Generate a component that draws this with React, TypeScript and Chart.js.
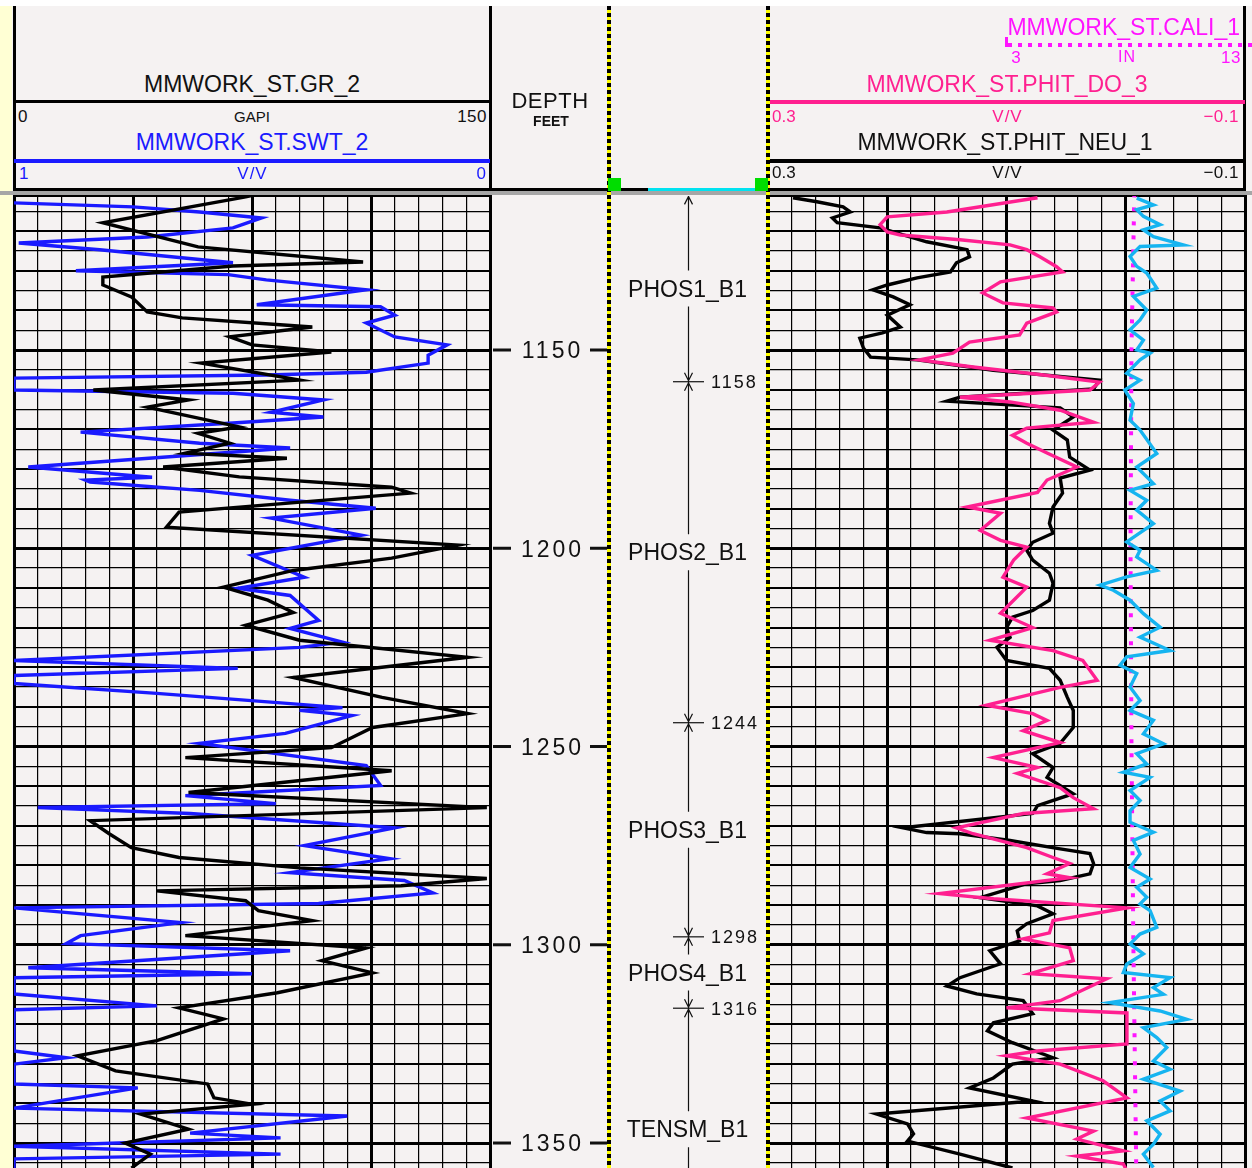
import React, { useEffect, useRef } from 'react';
import { Chart, registerables } from 'chart.js';

Chart.register(...registerables);

const FONT = '"Liberation Sans", Arial, Helvetica, sans-serif';

// ---------- depth window ----------
const DEPTH_TOP = 1111.16;
const DEPTH_BASE = 1356.3;

// ---------- depth & zone track ----------
const DEPTH_LABELS = [1150, 1200, 1250, 1300, 1350];
const ZONE_NAMES = ['PHOS1_B1', 'PHOS2_B1', 'PHOS3_B1', 'PHOS4_B1', 'TENSM_B1'];
const ZONE_TOPS = [1111, 1158, 1244, 1298, 1316];
const ZONE_BASES = [1158, 1244, 1298, 1316, 1377];
const TOP_MARKERS = [1158, 1244, 1298, 1316];

// ---------- curve scales ----------
const GR_RANGE = [0, 150];
const SWT_RANGE = [0, 1];
const PHIT_RANGE = [-0.1, 0.3];
const CALI_RANGE = [3, 13];

// ---------- curves: [depth ft, value] ----------
const GR_LOG = [
  [1110.5, 78], [1111.4, 73], [1117.9, 28], [1124.0, 58], [1127.8, 110], [1128.8, 69], [1131.6, 28], [1133.6, 28], [1136.6, 37], [1140.4, 42], [1141.9, 53],
  [1143.7, 85], [1144.2, 94], [1146.7, 68], [1148.7, 75], [1150.5, 100], [1153.3, 59], [1157.6, 90], [1160.1, 25], [1162.6, 55], [1164.4, 42],
  [1169.4, 71], [1171.0, 58], [1173.5, 68], [1176.0, 54], [1177.3, 86], [1179.5, 47], [1182.0, 71], [1184.6, 119], [1186.1, 125], [1190.9, 52],
  [1194.7, 48], [1199.2, 140], [1202.5, 119], [1205.6, 88], [1209.8, 66], [1213.1, 80], [1216.2, 88], [1219.4, 73], [1223.2, 90], [1227.5, 143],
  [1232.6, 88], [1237.6, 116], [1241.7, 143], [1245.2, 113], [1250.3, 100], [1252.8, 54], [1256.1, 119], [1261.6, 55], [1265.4, 149], [1268.7, 24],
  [1272.0, 30], [1275.5, 37], [1278.0, 52], [1280.6, 90], [1283.3, 149], [1285.1, 122], [1286.4, 45], [1288.9, 73], [1291.4, 77], [1293.9, 94],
  [1297.7, 54], [1300.8, 111], [1304.0, 97], [1307.1, 113], [1312.1, 83], [1315.9, 52], [1318.7, 66], [1324.2, 45], [1328.0, 20], [1331.8, 32],
  [1335.1, 61], [1338.6, 63], [1340.2, 75], [1342.7, 40], [1346.5, 55], [1350.0, 35], [1352.8, 43], [1356.3, 37],
];

const SWT_LOG = [
  [1112.9, 1.0], [1113.9, 0.75], [1115.2, 0.61], [1116.7, 0.48], [1119.2, 0.54], [1121.5, 0.72], [1123.0, 0.99], [1124.7, 0.82], [1128.0, 0.54], [1130.0, 0.87],
  [1131.0, 0.55], [1132.3, 0.47], [1134.8, 0.26], [1138.6, 0.49], [1139.1, 0.23], [1141.2, 0.2], [1143.2, 0.26], [1146.7, 0.2], [1148.7, 0.09], [1151.3, 0.13],
  [1153.3, 0.13], [1155.6, 0.26], [1156.3, 0.47], [1157.1, 1.0], [1160.1, 1.0], [1160.9, 0.54], [1162.6, 0.35], [1165.7, 0.46], [1166.9, 0.35], [1168.4, 0.54],
  [1170.7, 0.86], [1173.5, 0.61], [1174.7, 0.42], [1179.5, 0.97], [1182.1, 0.71], [1182.8, 0.85], [1183.3, 0.84], [1185.4, 0.61], [1187.9, 0.42], [1189.9, 0.24],
  [1192.4, 0.46], [1196.7, 0.27], [1201.8, 0.5], [1207.3, 0.39], [1210.1, 0.53], [1211.9, 0.42], [1218.2, 0.36], [1220.2, 0.42], [1223.7, 0.31], [1225.0, 0.4],
  [1228.3, 1.0], [1230.3, 0.53], [1232.1, 1.0], [1234.1, 1.0], [1236.6, 0.7], [1240.2, 0.31], [1240.9, 0.4], [1242.2, 0.29], [1246.7, 0.43], [1249.2, 0.61],
  [1254.8, 0.26], [1259.8, 0.23], [1262.4, 0.64], [1264.4, 0.45], [1265.4, 0.95], [1266.9, 0.63], [1270.5, 0.2], [1275.0, 0.39], [1278.3, 0.21], [1281.8, 0.42],
  [1283.8, 0.18], [1286.9, 0.12], [1289.6, 0.36], [1290.7, 1.0], [1294.4, 0.65], [1297.7, 0.86], [1299.7, 0.89], [1301.5, 0.42], [1305.8, 0.97], [1307.3, 0.5],
  [1308.3, 1.0], [1312.4, 1.0], [1315.4, 0.7], [1316.4, 1.0], [1326.8, 1.0], [1328.5, 0.89], [1330.1, 1.0], [1335.1, 1.0], [1336.1, 0.74], [1341.2, 1.0],
  [1343.2, 0.3], [1347.5, 0.63], [1348.7, 0.44], [1350.8, 1.0], [1352.8, 0.44], [1354.0, 1.0], [1356.6, 1.0],
];

const PHIT_NEU_LOG = [
  [1111.6, 0.279], [1112.6, 0.259], [1113.9, 0.237], [1115.2, 0.231], [1116.7, 0.246], [1117.9, 0.242], [1119.2, 0.206], [1122.7, 0.167], [1124.7, 0.133], [1126.5, 0.131],
  [1128.0, 0.142], [1130.3, 0.147], [1131.8, 0.175], [1133.6, 0.2], [1134.8, 0.212], [1136.6, 0.195], [1138.6, 0.181], [1141.2, 0.2], [1144.2, 0.189], [1145.7, 0.204],
  [1147.0, 0.223], [1149.5, 0.22], [1151.8, 0.214], [1152.5, 0.175], [1155.1, 0.111], [1157.6, 0.022], [1159.8, 0.027], [1161.9, 0.139], [1162.9, 0.15], [1164.6, 0.055],
  [1166.9, 0.044], [1170.2, 0.061], [1172.7, 0.049], [1177.0, 0.047], [1180.3, 0.03], [1182.3, 0.055], [1186.1, 0.053], [1189.6, 0.061], [1193.7, 0.064], [1196.2, 0.061],
  [1198.5, 0.078], [1200.5, 0.083], [1203.0, 0.078], [1206.3, 0.064], [1208.8, 0.061], [1213.1, 0.064], [1215.7, 0.078], [1217.4, 0.095], [1220.0, 0.1], [1222.5, 0.097],
  [1225.0, 0.108], [1228.3, 0.1], [1230.3, 0.064], [1233.3, 0.055], [1237.6, 0.049], [1240.9, 0.044], [1245.2, 0.044], [1249.2, 0.055], [1251.8, 0.078], [1255.3, 0.061],
  [1257.8, 0.066], [1261.9, 0.044], [1264.9, 0.074], [1266.9, 0.078], [1270.5, 0.187], [1271.7, 0.167], [1272.0, 0.139], [1273.7, 0.097], [1275.8, 0.055], [1277.0, 0.03],
  [1279.5, 0.027], [1282.1, 0.03], [1283.8, 0.055], [1284.6, 0.083], [1288.1, 0.122], [1290.2, 0.074], [1292.2, 0.061], [1294.7, 0.083], [1296.5, 0.091], [1299.0, 0.089],
  [1301.5, 0.114], [1304.8, 0.105], [1308.3, 0.139], [1310.4, 0.15], [1312.4, 0.125], [1314.1, 0.086], [1317.4, 0.078], [1319.7, 0.111], [1321.7, 0.116], [1324.7, 0.095],
  [1328.5, 0.061], [1330.1, 0.095], [1333.6, 0.111], [1336.1, 0.131], [1339.4, 0.078], [1342.7, 0.209], [1345.2, 0.183], [1347.7, 0.178], [1349.5, 0.183], [1352.8, 0.139],
  [1356.3, 0.095],
];

const PHIT_DO_LOG = [
  [1111.6, 0.074], [1115.2, 0.15], [1116.4, 0.2], [1118.4, 0.206], [1120.2, 0.2], [1121.0, 0.189], [1122.2, 0.139], [1123.5, 0.097], [1124.7, 0.083], [1126.5, 0.072],
  [1129.0, 0.058], [1130.3, 0.053], [1132.8, 0.105], [1135.6, 0.12], [1138.1, 0.103], [1139.4, 0.061], [1140.4, 0.058], [1143.2, 0.083], [1146.2, 0.089], [1148.0, 0.131],
  [1150.8, 0.145], [1152.5, 0.173], [1154.3, 0.128], [1156.3, 0.069], [1158.1, 0.022], [1160.1, 0.03], [1161.9, 0.139], [1163.1, 0.097], [1165.2, 0.055], [1168.2, 0.027],
  [1169.7, 0.083], [1171.5, 0.095], [1173.5, 0.083], [1176.0, 0.066], [1179.5, 0.041], [1182.8, 0.066], [1185.9, 0.074], [1189.6, 0.133], [1191.2, 0.105], [1195.5, 0.122],
  [1198.0, 0.105], [1199.7, 0.083], [1203.0, 0.094], [1207.3, 0.103], [1209.8, 0.083], [1213.1, 0.094], [1216.4, 0.105], [1220.0, 0.078], [1223.2, 0.114], [1225.8, 0.061],
  [1228.3, 0.036], [1233.3, 0.024], [1235.1, 0.055], [1237.1, 0.083], [1239.6, 0.117], [1241.7, 0.078], [1243.4, 0.066], [1246.0, 0.086], [1249.0, 0.055], [1252.8, 0.111],
  [1255.3, 0.074], [1256.8, 0.091], [1260.4, 0.055], [1262.9, 0.044], [1265.7, 0.027], [1266.9, 0.086], [1270.5, 0.142], [1272.0, 0.128], [1275.5, 0.083], [1278.0, 0.061],
  [1279.5, 0.047], [1282.1, 0.066], [1283.1, 0.047], [1287.1, 0.156], [1288.4, 0.111], [1290.7, -0.001], [1293.9, 0.061], [1297.0, 0.064], [1298.5, 0.086], [1300.8, 0.047],
  [1304.0, 0.044], [1307.3, 0.08], [1308.6, 0.016], [1314.1, 0.055], [1315.9, 0.1], [1317.2, -0.001], [1325.0, -0.001], [1326.8, 0.074], [1328.0, 0.1], [1330.1, 0.055],
  [1334.3, 0.019], [1338.6, -0.001], [1343.7, 0.083], [1347.0, 0.027], [1349.0, 0.041], [1352.0, 0.002], [1353.3, 0.041], [1355.3, 0.002], [1356.5, 0.0],
];

// unlabelled cyan curve, plotted on the CALI scale (inches)
const CYAN_CURVE_LOG = [
  [1111.7, 10.73], [1113.4, 11.08], [1114.6, 10.73], [1116.3, 10.87], [1118.4, 11.22], [1119.7, 10.87], [1121.4, 11.08], [1123.5, 11.71], [1123.9, 10.8], [1126.4, 10.59],
  [1128.9, 10.73], [1130.6, 10.94], [1134.4, 11.15], [1136.5, 10.66], [1139.9, 10.94], [1142.4, 10.8], [1144.9, 10.59], [1147.5, 10.87], [1150.0, 10.73], [1150.8, 11.01],
  [1152.5, 10.8], [1155.9, 10.52], [1157.6, 10.8], [1160.1, 10.48], [1163.5, 10.66], [1167.7, 10.59], [1170.2, 10.8], [1176.1, 11.15], [1179.5, 10.73], [1183.7, 11.08],
  [1185.4, 10.59], [1187.9, 10.94], [1190.4, 10.73], [1193.8, 11.08], [1198.4, 10.52], [1200.5, 10.8], [1202.2, 10.73], [1205.6, 11.15], [1207.2, 10.52], [1209.3, 9.96],
  [1210.6, 10.24], [1213.1, 10.59], [1216.5, 10.87], [1219.9, 11.22], [1222.4, 10.8], [1225.8, 11.43], [1227.4, 10.52], [1229.5, 10.38], [1231.6, 10.73], [1235.0, 10.59],
  [1238.4, 10.8], [1240.9, 10.59], [1243.4, 11.08], [1246.8, 10.87], [1249.3, 11.29], [1251.8, 10.73], [1254.4, 10.94], [1256.5, 10.45], [1257.8, 11.01], [1261.1, 10.59],
  [1263.6, 10.8], [1266.2, 10.59], [1269.1, 10.59], [1271.6, 11.08], [1273.7, 10.66], [1277.1, 10.8], [1280.5, 10.59], [1283.4, 11.01], [1285.5, 10.73], [1288.0, 10.94],
  [1289.7, 10.8], [1291.4, 11.01], [1295.6, 11.15], [1297.3, 10.8], [1299.8, 10.59], [1302.3, 10.87], [1304.9, 10.52], [1307.0, 10.45], [1308.3, 11.43], [1310.8, 11.08],
  [1312.5, 11.29], [1314.6, 10.17], [1316.7, 11.22], [1318.8, 11.78], [1320.9, 10.87], [1323.4, 11.15], [1325.9, 11.36], [1329.3, 11.08], [1331.4, 11.43], [1333.9, 10.87],
  [1336.9, 11.64], [1339.4, 11.22], [1341.9, 11.43], [1344.4, 10.94], [1347.8, 11.22], [1350.3, 11.08], [1352.8, 10.87], [1356.2, 11.08],
];

const CALI_LOG = [
  [1110.5, 10.68], [1150, 10.62], [1200, 10.6], [1250, 10.62], [1300, 10.66], [1356.5, 10.72],
];

// ---------- colours ----------
const C_BLACK = '#000000';
const C_BLUE = '#1a1aff';
const C_PINK = '#ff2090';
const C_MAGENTA = '#ff14ff';
const C_CYAN = '#16b4f0';

// ---------- helpers ----------
const toPoints = (log) => log.map(([d, v]) => ({ x: v, y: d }));

function depthAxis(showGrid) {
  return {
    type: 'linear',
    position: 'left',
    reverse: true,
    min: DEPTH_TOP,
    max: DEPTH_BASE,
    afterFit: (s) => { s.width = 0; },
    afterBuildTicks: (s) => {
      const t = [];
      for (let d = Math.ceil(DEPTH_TOP / 5) * 5; d <= DEPTH_BASE; d += 5) t.push({ value: d });
      s.ticks = t;
    },
    ticks: { display: false },
    border: { display: false },
    grid: {
      display: showGrid,
      drawTicks: false,
      color: '#000',
      lineWidth: (c) => {
        const v = Math.round(c.tick ? c.tick.value : 0);
        return v % 50 === 0 ? 3 : v % 10 === 0 ? 2 : 1.2;
      },
    },
  };
}

function gridAxis(range, reverse) {
  const [min, max] = range;
  return {
    type: 'linear',
    position: 'top',
    min,
    max,
    reverse,
    afterFit: (s) => { s.height = 0; },
    afterBuildTicks: (s) => {
      const t = [];
      for (let i = 0; i <= 20; i++) t.push({ value: min + ((max - min) * i) / 20 });
      s.ticks = t;
    },
    ticks: { display: false },
    border: { display: true, color: '#000', width: 2 },
    grid: {
      drawTicks: false,
      color: '#000',
      lineWidth: (c) => (c.index % 5 === 0 ? 3 : 1.2),
    },
  };
}

function hiddenAxis(range, reverse) {
  return { type: 'linear', position: 'top', min: range[0], max: range[1], reverse, display: false };
}

function curve(log, color, xAxisID, extra = {}) {
  return {
    data: toPoints(log),
    xAxisID,
    yAxisID: 'y',
    showLine: true,
    pointRadius: 0,
    pointHoverRadius: 0,
    borderColor: color,
    backgroundColor: color,
    borderWidth: 3.4,
    fill: false,
    tension: 0,
    ...extra,
  };
}

const baseOptions = (padLeft, padRight) => ({
  animation: false,
  responsive: false,
  maintainAspectRatio: false,
  devicePixelRatio: 1,
  events: [],
  layout: { padding: { left: padLeft, right: padRight, top: 2, bottom: 0 } },
  plugins: { legend: { display: false }, tooltip: { enabled: false }, title: { display: false } },
});

const zonePlugin = {
  id: 'zoneTrack',
  afterDraw(chart) {
    const ctx = chart.ctx;
    const ys = chart.scales.y;
    const area = chart.chartArea;
    const px = (d) => ys.getPixelForValue(d);
    ctx.save();
    ctx.beginPath();
    ctx.rect(0, area.top, chart.width, area.bottom - area.top);
    ctx.clip();
    ctx.fillStyle = '#111';
    ctx.strokeStyle = '#111';
    ctx.textBaseline = 'alphabetic';

    // depth numbers with dashes
    ctx.font = `23px ${FONT}`;
    ctx.textAlign = 'center';
    ctx.letterSpacing = '3px';
    DEPTH_LABELS.forEach((d) => {
      const y = px(d);
      ctx.fillText(String(d), 62.5, y + 8.3);
      ctx.fillRect(3, y - 1.5, 18, 3);
      ctx.fillRect(100, y - 1.5, 18, 3);
    });

    // zones
    const cx = 198.5;
    ctx.lineWidth = 1.2;
    ctx.letterSpacing = '0px';
    ctx.font = `23px ${FONT}`;
    ZONE_NAMES.forEach((name, i) => {
      const yt = px(ZONE_TOPS[i]);
      const yb = px(ZONE_BASES[i]);
      const ym = px((ZONE_TOPS[i] + ZONE_BASES[i]) / 2);
      ctx.beginPath();
      ctx.moveTo(cx, yt);
      ctx.lineTo(cx, ym - 18);
      ctx.moveTo(cx, ym + 18);
      ctx.lineTo(cx, yb);
      ctx.moveTo(cx - 4, yt + 9);
      ctx.lineTo(cx, yt + 1);
      ctx.lineTo(cx + 4, yt + 9);
      ctx.moveTo(cx - 4, yb - 9);
      ctx.lineTo(cx, yb - 1);
      ctx.lineTo(cx + 4, yb - 9);
      ctx.stroke();
      ctx.fillText(name, cx - 1, ym + 8.2);
    });

    // zone boundary depths
    ctx.font = `18px ${FONT}`;
    ctx.textAlign = 'left';
    ctx.letterSpacing = '2px';
    TOP_MARKERS.forEach((d) => {
      const y = px(d);
      ctx.beginPath();
      ctx.moveTo(183, y);
      ctx.lineTo(214, y);
      ctx.stroke();
      ctx.fillText(String(d), 221, y + 6.6);
    });
    ctx.restore();
  },
};

function leftTrackConfig() {
  return {
    type: 'scatter',
    data: {
      datasets: [
        curve(GR_LOG, C_BLACK, 'x'),
        curve(SWT_LOG, C_BLUE, 'swt'),
      ],
    },
    options: {
      ...baseOptions(4, 6),
      scales: {
        x: gridAxis(GR_RANGE, false),
        swt: hiddenAxis(SWT_RANGE, true),
        y: depthAxis(true),
      },
    },
  };
}

function rightTrackConfig() {
  return {
    type: 'scatter',
    data: {
      datasets: [
        curve(PHIT_DO_LOG, C_PINK, 'x'),
        curve(PHIT_NEU_LOG, C_BLACK, 'x'),
        curve(CYAN_CURVE_LOG, C_CYAN, 'cali'),
        curve(CALI_LOG, C_MAGENTA, 'cali', { borderDash: [4, 10], borderWidth: 4, borderCapStyle: 'butt' }),
      ],
    },
    options: {
      ...baseOptions(4, 5),
      scales: {
        x: gridAxis(PHIT_RANGE, true),
        cali: hiddenAxis(CALI_RANGE, false),
        y: depthAxis(true),
      },
    },
  };
}

function depthTrackConfig() {
  return {
    type: 'scatter',
    data: { datasets: [] },
    options: {
      ...baseOptions(0, 0),
      scales: {
        x: { type: 'linear', min: 0, max: 1, display: false },
        y: depthAxis(false),
      },
    },
    plugins: [zonePlugin],
  };
}

function ChartCanvas({ left, top, width, height, config }) {
  const ref = useRef(null);
  useEffect(() => {
    const chart = new Chart(ref.current, config());
    return () => chart.destroy();
  }, []);
  return (
    <canvas
      ref={ref}
      width={width}
      height={height}
      style={{ position: 'absolute', left, top, width, height, display: 'block' }}
    />
  );
}

function Rect({ x, y, w, h, c, style = {} }) {
  return <div style={{ position: 'absolute', left: x, top: y, width: w, height: h, background: c, ...style }} />;
}

function Txt({ x, base, size, color, align = 'center', weight = 400, spacing = 0, children }) {
  const top = base - 0.8465 * size;
  const style = {
    position: 'absolute',
    top,
    fontFamily: FONT,
    fontSize: size,
    lineHeight: `${size}px`,
    color,
    whiteSpace: 'nowrap',
    fontWeight: weight,
    letterSpacing: spacing,
  };
  if (align === 'center') Object.assign(style, { left: x - 300, width: 600, textAlign: 'center' });
  else if (align === 'right') Object.assign(style, { left: x - 600, width: 600, textAlign: 'right' });
  else Object.assign(style, { left: x });
  return <div style={style}>{children}</div>;
}

const dottedV = 'repeating-linear-gradient(to bottom, #000 0px, #000 4px, #ffff00 4px, #ffff00 7px)';
const dottedH = `repeating-linear-gradient(to right, ${C_MAGENTA} 0px, ${C_MAGENTA} 4px, transparent 4px, transparent 10px)`;

export default function App() {
  const DATA_TOP = 194;
  const DATA_H = 1168 - DATA_TOP;
  return (
    <div
      style={{
        position: 'absolute',
        left: 0,
        top: 0,
        width: 1252,
        height: 1168,
        overflow: 'hidden',
        background: '#f5f2f2',
        fontFamily: FONT,
      }}
    >
      <Rect x={0} y={0} w={1252} h={6} c="#ffffff" />
      <Rect x={0} y={6} w={12} h={1162} c="#ffffd4" />

      {/* header frame */}
      <Rect x={13} y={6} w={3} h={189} c="#000" />
      <Rect x={489} y={6} w={3} h={189} c="#000" />
      <Rect x={1243} y={6} w={3} h={189} c="#000" />
      <Rect x={14} y={100} w={476} h={3} c="#000" />
      <Rect x={14} y={159} w={476} h={4} c={C_BLUE} />
      <Rect x={768} y={100} w={477} h={4} c={C_PINK} />
      <Rect x={768} y={159} w={477} h={4} c="#000" />
      <Rect x={14} y={188} w={1232} h={3} c="#000" />
      <Rect x={648} y={188} w={109} h={3} c="#00e2f0" />
      <Rect x={0} y={191} w={1252} h={4} c="#a6a6a6" />
      <Rect x={1008} y={43} w={244} h={4} c="transparent" style={{ background: dottedH }} />
      <Rect x={1005} y={37} w={3} h={10} c={C_MAGENTA} />

      {/* tracks */}
      <ChartCanvas left={10} top={DATA_TOP} width={486} height={DATA_H} config={leftTrackConfig} />
      <ChartCanvas left={490} top={DATA_TOP} width={278} height={DATA_H} config={depthTrackConfig} />
      <ChartCanvas left={764} top={DATA_TOP} width={486} height={DATA_H} config={rightTrackConfig} />

      {/* zone track borders */}
      <Rect x={607} y={6} w={4} h={1162} c="transparent" style={{ background: dottedV }} />
      <Rect x={766} y={6} w={4} h={1162} c="transparent" style={{ background: dottedV }} />
      <Rect x={608} y={178} w={13} h={13} c="#00dd00" />
      <Rect x={755} y={178} w={13} h={13} c="#00dd00" />

      {/* left header text */}
      <Txt x={252} base={92.5} size={23} color="#111">MMWORK_ST.GR_2</Txt>
      <Txt x={18} base={122} size={17} color="#111" align="left">0</Txt>
      <Txt x={252} base={121.5} size={15} color="#111">GAPI</Txt>
      <Txt x={487} base={122} size={17} color="#111" align="right" spacing={0.5}>150</Txt>
      <Txt x={252} base={150.5} size={23} color={C_BLUE}>MMWORK_ST.SWT_2</Txt>
      <Txt x={19} base={179.5} size={17} color={C_BLUE} align="left">1</Txt>
      <Txt x={252.5} base={179.5} size={17} color={C_BLUE} spacing={1}>V/V</Txt>
      <Txt x={486} base={179.5} size={17} color={C_BLUE} align="right">0</Txt>

      {/* depth header text */}
      <Txt x={550} base={109} size={22} color="#111" spacing={0.5}>DEPTH</Txt>
      <Txt x={551} base={126} size={14} color="#111" weight={700}>FEET</Txt>

      {/* right header text */}
      <Txt x={1240} base={35} size={23} color={C_MAGENTA} align="right">MMWORK_ST.CALI_1</Txt>
      <Txt x={1016} base={63} size={17} color={C_MAGENTA}>3</Txt>
      <Txt x={1127} base={63} size={16} color={C_MAGENTA} spacing={1}>IN</Txt>
      <Txt x={1241} base={63} size={17} color={C_MAGENTA} align="right" spacing={0.5}>13</Txt>
      <Txt x={1007} base={92.5} size={23} color={C_PINK}>MMWORK_ST.PHIT_DO_3</Txt>
      <Txt x={772} base={122} size={17} color={C_PINK} align="left">0.3</Txt>
      <Txt x={1007.5} base={122} size={17} color={C_PINK} spacing={1}>V/V</Txt>
      <Txt x={1239} base={122} size={17} color={C_PINK} align="right" spacing={0.5}>−0.1</Txt>
      <Txt x={1005} base={150} size={23} color="#111">MMWORK_ST.PHIT_NEU_1</Txt>
      <Txt x={772} base={178.5} size={17} color="#111" align="left">0.3</Txt>
      <Txt x={1007.5} base={178.5} size={17} color="#111" spacing={1}>V/V</Txt>
      <Txt x={1239} base={178.5} size={17} color="#111" align="right" spacing={0.5}>−0.1</Txt>
    </div>
  );
}
